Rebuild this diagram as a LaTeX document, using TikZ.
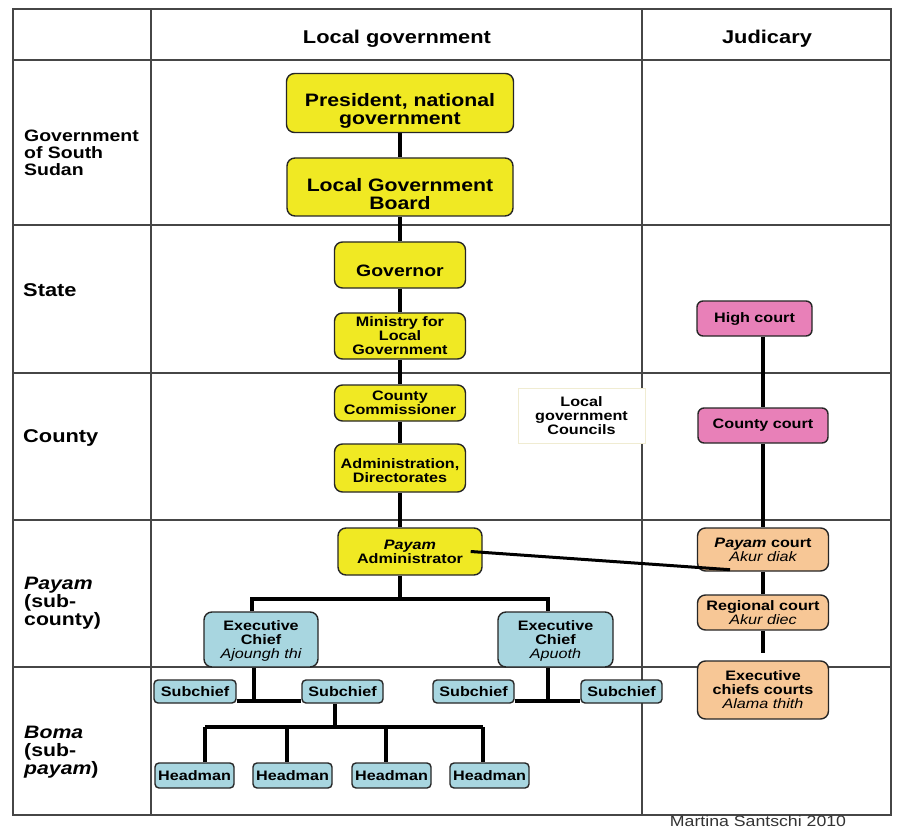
\documentclass[tikz,border=0pt]{standalone}
\usepackage{fontspec}
\setmainfont[FakeStretch=1.18]{Liberation Sans}
\usetikzlibrary{backgrounds}
\definecolor{ylw}{RGB}{240,233,35}
\definecolor{pnk}{RGB}{232,128,184}
\definecolor{pch}{RGB}{247,199,150}
\definecolor{blu}{RGB}{168,214,224}
\definecolor{gridc}{RGB}{70,70,70}
\definecolor{faint}{RGB}{240,236,210}
\newcommand{\fbig}{\fontsize{18}{18}\selectfont}
\newcommand{\fmid}{\fontsize{16.5}{17}\selectfont}
\newcommand{\fsm}{\fontsize{13.7}{14}\selectfont}
\begin{document}
\begin{tikzpicture}[x=1pt,y=-1pt,
  gridline/.style={draw=gridc,line width=1.3pt},
  conn/.style={line width=4pt,black},
  box/.style={draw=black!85,line width=1.4pt,rounded corners=8pt,align=center,inner sep=0pt,font=\bfseries\fsm},
  ybox/.style={box,fill=ylw},
  pbox/.style={box,fill=pnk},
  obox/.style={box,fill=pch},
  bbox/.style={box,fill=blu},
  sbox/.style={box,fill=blu,rounded corners=4pt,minimum width=81pt,minimum height=23pt},
  hbox/.style={box,fill=blu,rounded corners=4pt,minimum width=79pt,minimum height=25pt},
  btext/.style={align=center,inner sep=0pt,font=\bfseries\fbig},
  rowlab/.style={anchor=west,align=left,font=\bfseries\fontsize{18.5}{19}\selectfont,inner sep=0pt}
]
\useasboundingbox (0,0) rectangle (897,829);

% headers
\node[font=\bfseries\fontsize{18.5}{19}\selectfont] (hlg) at (397,39) {Local government};
\node[font=\bfseries\fontsize{18.5}{19}\selectfont] (hjd) at (767,39) {Judicary};

% row labels
\node[rowlab,font=\bfseries\fontsize{16.5}{17}\selectfont] (r1) at (24,153) {Government\\of South\\Sudan};
\node[rowlab] (r2) at (23,290) {State};
\node[rowlab] (r3) at (23,438) {County};
\node[rowlab,font=\bfseries\fontsize{18}{18.3}\selectfont] (r4) at (24,603) {\itshape Payam\\(sub-\\county)};
\node[rowlab,font=\bfseries\fontsize{18}{18.3}\selectfont] (r5) at (24,752) {\itshape Boma\\(sub-\\\itshape payam\upshape)};

% local government column
\node[ybox,minimum width=227pt,minimum height=59pt] (pres) at (400,103) {};
\node[btext] (prest) at (400,111) {President, national\\government};
\node[ybox,minimum width=226pt,minimum height=58pt] (lgb) at (400,187) {};
\node[btext] (lgbt) at (400,194) {Local Government\\Board};
\node[ybox,minimum width=131pt,minimum height=46pt] (gov) at (400,265) {};
\node[btext,font=\bfseries\fmid] (govt) at (400,271) {Governor};
\node[ybox,minimum width=131pt,minimum height=46pt] (min) at (400,336) {Ministry for\\Local\\Government};
\node[ybox,minimum width=131pt,minimum height=36pt] (cc) at (400,403) {County\\Commissioner};
\node[ybox,minimum width=131pt,minimum height=48pt] (adm) at (400,468) {};
\node[btext,font=\bfseries\fsm] (admt) at (400,471) {Administration,\\Directorates};
\node[ybox,minimum width=144pt,minimum height=47pt] (pa) at (410,551.5) {\itshape Payam\\Administrator};
\node[bbox,minimum width=114pt,minimum height=55pt] (ec1) at (261,639.5) {};
\node[btext,font=\bfseries\fsm] (ec1t) at (261,641) {Executive\\Chief\\{\mdseries\itshape Ajoungh thi}};
\node[bbox,minimum width=115pt,minimum height=55pt] (ec2) at (555.5,639.5) {};
\node[btext,font=\bfseries\fsm] (ec2t) at (555.5,641) {Executive\\Chief\\{\mdseries\itshape Apuoth}};
\node[sbox,minimum width=82pt] (sc1) at (195,691.5) {Subchief};
\node[sbox] (sc2) at (342.5,691.5) {Subchief};
\node[sbox] (sc3) at (473.5,691.5) {Subchief};
\node[sbox] (sc4) at (621.5,691.5) {Subchief};
\node[hbox] (h1) at (194.5,775.5) {Headman};
\node[hbox] (h2) at (292.5,775.5) {Headman};
\node[hbox] (h3) at (391.5,775.5) {Headman};
\node[hbox] (h4) at (489.5,775.5) {Headman};
\node[draw=faint,line width=1pt,fill=white,align=center,inner sep=0pt,minimum width=127pt,minimum height=55pt,font=\bfseries\fsm] (lgc) at (581.5,415.5) {Local\\government\\Councils};

% judiciary column
\node[pbox,minimum width=115pt,minimum height=35pt,rounded corners=6pt] (hc) at (754.5,318.5) {High court};
\node[pbox,minimum width=130pt,minimum height=35pt,rounded corners=6pt] (cty) at (763,425.5) {County court};
\node[obox,minimum width=131pt,minimum height=43pt] (pc) at (763,549.5) {{\itshape Payam} court\\{\mdseries\itshape Akur diak}};
\node[obox,minimum width=131pt,minimum height=35pt] (rc) at (763,612.5) {Regional court\\{\mdseries\itshape Akur diec}};
\node[obox,minimum width=131pt,minimum height=58pt] (ecc) at (763,690) {Executive\\chiefs courts\\{\mdseries\itshape Alama thith}};

% credit
\node[font=\fontsize{15}{15}\selectfont,text=black!80,inner sep=0pt] (credit) at (758,821.5) {Martina Santschi 2010};

% coordinates for branching
\coordinate (pbr) at (400,599);
\coordinate (d1) at (252,599);
\coordinate (d2) at (548,599);
\coordinate (b1) at (254,701);
\coordinate (b2) at (548,701);
\coordinate (hb) at (335,727);
\coordinate (hd1) at (205,727);
\coordinate (hd2) at (287,727);
\coordinate (hd3) at (386,727);
\coordinate (hd4) at (483,727);

\begin{pgfonlayer}{background}
\fill[white] (0,0) rectangle (897,829);
\draw[gridline] (13,9) rectangle (891,815);
\foreach \yy in {60,225,373,520,667} \draw[gridline] (13,\yy) -- (891,\yy);
\foreach \xx in {151,642} \draw[gridline] (\xx,9) -- (\xx,815);

\draw[conn] (pres) -- (lgb);
\draw[conn] (lgb) -- (gov);
\draw[conn] (gov) -- (min);
\draw[conn] (min) -- (cc);
\draw[conn] (cc) -- (adm);
\draw[conn] (adm.south) -- (adm.south |- pa.north);
\draw[conn] (pa.south -| pbr) -- (pbr);
\draw[conn] (d1 |- ec1.north) -- (d1) -- (d2) -- (d2 |- ec2.north);
\draw[conn] (b1 |- ec1.south) -- (b1);
\draw[conn] (sc1.east |- b1) -- (sc2.west |- b1);
\draw[conn] (b2 |- ec2.south) -- (b2);
\draw[conn] (sc3.east |- b2) -- (sc4.west |- b2);
\draw[conn] (hb |- sc2.south) -- (hb);
\draw[conn] (hd1) -- (hd4);
\draw[conn] (hd1) -- (hd1 |- h1.north);
\draw[conn] (hd2) -- (hd2 |- h2.north);
\draw[conn] (hd3) -- (hd3 |- h3.north);
\draw[conn] (hd4) -- (hd4 |- h4.north);

\draw[conn] (hc.south -| cty.north) -- (cty.north);
\draw[conn] (cty) -- (pc);
\draw[conn] (pc) -- (rc);
\draw[conn,shorten >=7pt] (rc.south) -- (ecc.north);
\end{pgfonlayer}

% line from Payam Administrator to Payam court (on top)
\coordinate (pa1) at ([xshift=-12pt]pa.east);
\coordinate (pc1) at ([xshift=-33pt,yshift=2pt]pc.south);
\draw[line width=3pt,black] (pa1) -- (pc1);
\end{tikzpicture}
\end{document}
